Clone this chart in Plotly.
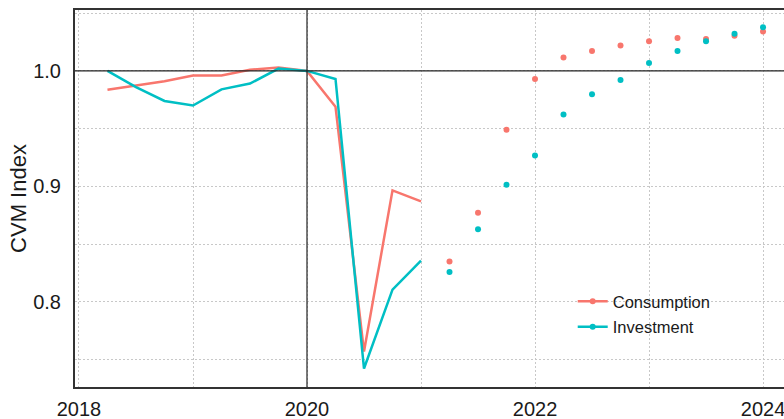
import plotly.graph_objects as go

# ---- data ----
hist_x = [2018.25, 2018.5, 2018.75, 2019.0, 2019.25, 2019.5, 2019.75, 2020.0,
          2020.25, 2020.5, 2020.75, 2021.0]
cons_hist = [0.9836, 0.987, 0.991, 0.996, 0.996, 1.001, 1.003, 1.000,
             0.969, 0.757, 0.8966, 0.887]
inv_hist = [1.000, 0.986, 0.974, 0.970, 0.984, 0.989, 1.002, 1.000,
            0.993, 0.7424, 0.8107, 0.8358]

fc_x = [2021.25, 2021.5, 2021.75, 2022.0, 2022.25, 2022.5, 2022.75, 2023.0,
        2023.25, 2023.5, 2023.75, 2024.0]
cons_fc = [0.835, 0.8773, 0.949, 0.993, 1.0115, 1.0173, 1.0219, 1.0257,
           1.0285, 1.0277, 1.0305, 1.034]
inv_fc = [0.826, 0.863, 0.9015, 0.9268, 0.9622, 0.9798, 0.9922, 1.0069,
          1.0173, 1.0257, 1.0322, 1.0378]

series_names = ["Consumption", "Investment"]
x_tick_vals = [2018, 2020, 2022, 2024]
y_tick_vals = [0.8, 0.9, 1.0]
ref_x = 2020
ref_y = 1.0

# ---- styles ----
RED = "#F8766D"
TEAL = "#00BFC4"
FONT = "Liberation Sans, Arial, sans-serif"
GRID = "#c8c8c8"
GRID_DASH = "2px,2px"

fig = go.Figure()
for name, color, hy, fy in [
    (series_names[0], RED, cons_hist, cons_fc),
    (series_names[1], TEAL, inv_hist, inv_fc),
]:
    fig.add_trace(go.Scatter(x=hist_x, y=hy, mode="lines",
                             line=dict(color=color, width=2.5),
                             showlegend=False, hoverinfo="skip"))
    fig.add_trace(go.Scatter(x=fc_x, y=fy, mode="markers",
                             marker=dict(color=color, size=6),
                             showlegend=False, hoverinfo="skip"))
    fig.add_trace(go.Scatter(x=[None], y=[None], mode="lines+markers",
                             name=name, legendgroup=name,
                             line=dict(color=color, width=2.5),
                             marker=dict(color=color, size=6)))

fig.add_hline(y=ref_y, line=dict(color="#222222", width=1.2), layer="above")
fig.add_vline(x=ref_x, line=dict(color="#222222", width=1.2), layer="above")

fig.update_layout(
    width=784, height=419,
    margin=dict(l=75, r=0, t=10, b=32, autoexpand=False),
    paper_bgcolor="white", plot_bgcolor="white",
    font=dict(family=FONT, color="#1a1a1a"),
    showlegend=True,
    legend=dict(x=0.702, y=0.273, xanchor="left", yanchor="top",
                bgcolor="rgba(0,0,0,0)", font=dict(size=16.5, family=FONT, color="#1a1a1a"),
                tracegroupgap=1),
)
fig.update_xaxes(
    range=[2017.965, 2024.184], tickvals=x_tick_vals,
    showgrid=True, gridcolor=GRID, griddash=GRID_DASH, gridwidth=1,
    minor=dict(dtick=1, tick0=2018, showgrid=True, gridcolor=GRID, griddash=GRID_DASH, gridwidth=1),
    showline=True, linecolor="#333333", linewidth=2, mirror=True,
    ticks="", ticklabelstandoff=3, ticklabeloverflow="allow",
    tickfont=dict(size=20, family=FONT, color="#1a1a1a"),
    zeroline=False, automargin=False,
)
fig.update_yaxes(
    range=[0.7264, 1.0527], tickvals=y_tick_vals, tickformat=".1f",
    showgrid=True, gridcolor=GRID, griddash=GRID_DASH, gridwidth=1,
    minor=dict(dtick=0.05, tick0=0, showgrid=True, gridcolor=GRID, griddash=GRID_DASH, gridwidth=1),
    showline=True, linecolor="#333333", linewidth=2, mirror=False,
    ticks="", ticklabelstandoff=8,
    tickfont=dict(size=20, family=FONT, color="#1a1a1a"),
    title=dict(text="CVM Index", font=dict(size=22, family=FONT, color="#1a1a1a"), standoff=0),
    zeroline=False, automargin=False,
)

fig.write_html("out.html", config={"displayModeBar": False},
               post_script="document.body.style.margin='0';document.body.style.overflow='hidden';")
